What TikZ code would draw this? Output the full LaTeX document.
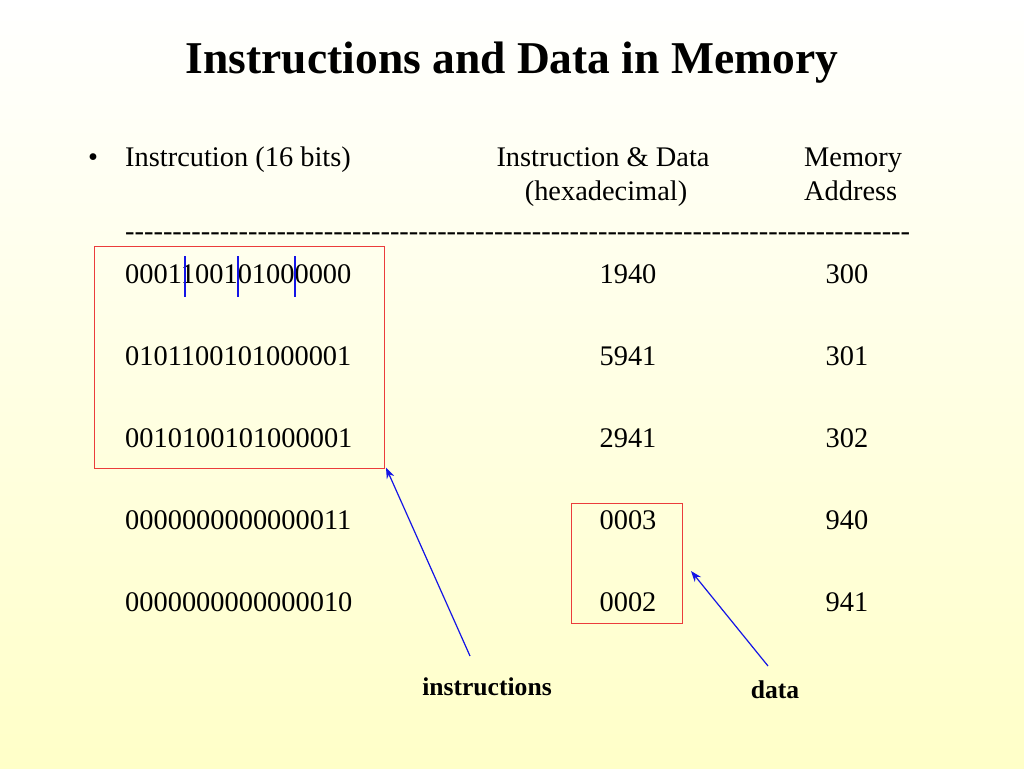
\documentclass[tikz,border=0pt]{standalone}
\usepackage{fontspec}
\setmainfont{Liberation Serif}
\usetikzlibrary{arrows.meta}
\definecolor{bgtop}{RGB}{255,255,255}
\definecolor{bgbot}{RGB}{255,255,200}
\definecolor{boxred}{RGB}{235,60,60}
\definecolor{arrblue}{RGB}{20,20,230}
\tikzset{
  body/.style={inner sep=0pt, font=\fontsize{28.4}{32}\selectfont},
  lbl/.style={inner sep=0pt, font=\fontsize{25.6}{30}\selectfont\bfseries},
  redbox/.style={draw=boxred, line width=1pt, inner sep=0pt},
  pointer/.style={draw=arrblue, line width=1.2pt, -{Stealth[length=11pt,width=8pt]}},
  divider/.style={draw=arrblue, line width=1.1pt}
}
\begin{document}
\begin{tikzpicture}[x=1pt,y=-1pt]
\useasboundingbox (0,0) rectangle (1024,768);
\shade[top color=bgtop, bottom color=bgbot] (0,0) rectangle (1024,768);

\node[inner sep=0pt, anchor=base, font=\fontsize{45.5}{50}\selectfont\bfseries] (title) at (512,73) {Instructions and Data in Memory};

\node[body, anchor=base] (bullet) at (93,166) {•};
\node[body, anchor=base west] (h1) at (125,166) {Instrcution (16 bits)};
\node[body, anchor=base] (h2a) at (603,166) {Instruction \& Data};
\node[body, anchor=base] (h2b) at (606,200) {(hexadecimal)};
\node[body, anchor=base west] (h3a) at (804,166) {Memory};
\node[body, anchor=base west] (h3b) at (804,200) {Address};
\node[body, anchor=base west] (dash) at (125,240) {\foreach \i in {1,...,83}{-\kern0pt}};

\node[body, anchor=base west] (b1) at (125,283) {0001100101000000};
\node[body, anchor=base west] (b2) at (125,365) {0101100101000001};
\node[body, anchor=base west] (b3) at (125,447) {0010100101000001};
\node[body, anchor=base west] (b4) at (125,529) {0000000000000011};
\node[body, anchor=base west] (b5) at (125,611) {0000000000000010};

\node[body, anchor=base] (x1) at (628,283) {1940};
\node[body, anchor=base] (x2) at (628,365) {5941};
\node[body, anchor=base] (x3) at (628,447) {2941};
\node[body, anchor=base] (x4) at (628,529) {0003};
\node[body, anchor=base] (x5) at (628,611) {0002};

\node[body, anchor=base] (m1) at (847,283) {300};
\node[body, anchor=base] (m2) at (847,365) {301};
\node[body, anchor=base] (m3) at (847,447) {302};
\node[body, anchor=base] (m4) at (847,529) {940};
\node[body, anchor=base] (m5) at (847,611) {941};

\draw[divider] (185,256) -- (185,297);
\draw[divider] (238,256) -- (238,297);
\draw[divider] (295,256) -- (295,297);

\node[redbox, minimum width=290pt, minimum height=222pt, anchor=north west] (instbox) at (94,246) {};
\node[redbox, minimum width=111pt, minimum height=120pt, anchor=north west] (databox) at (571,503) {};

\node[lbl, anchor=base] (ilbl) at (487,695) {instructions};
\node[lbl, anchor=base] (dlbl) at (775,698) {data};

\coordinate (a1s) at (470,656);
\coordinate (a2s) at (768,666);
\coordinate (a2e) at (691,571);
\draw[pointer] (a1s) -- ([shift={(1pt,1.5pt)}]instbox.south east);
\draw[pointer] (a2s) -- (a2e);
\end{tikzpicture}
\end{document}
